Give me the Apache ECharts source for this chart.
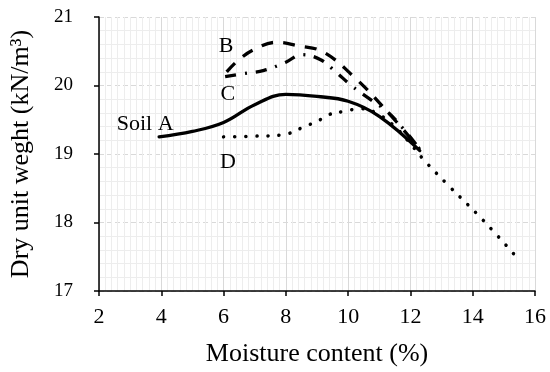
<!DOCTYPE html>
<html>
<head>
<meta charset="utf-8">
<script src="https://cdn.jsdelivr.net/npm/echarts@6/dist/echarts.min.js"></script>
<style>html,body{margin:0;padding:0;background:#fff}#c{width:550px;height:372px}</style>
</head>
<body>
<div id="c"></div>
<script>
var xA = [3.93, 5, 6, 7, 8, 9, 10, 11, 12.3];
var yA = [19.25, 19.33, 19.46, 19.72, 19.87, 19.84, 19.77, 19.55, 19.05];
var xB = [6.1, 6.5, 7, 7.7, 8.4, 9.2, 10.2, 11.2, 12.3];
var yB = [20.2, 20.38, 20.53, 20.63, 20.58, 20.49, 20.12, 19.65, 19.07];
var xC = [6.05, 6.6, 7.3, 8.0, 8.5, 9.1, 9.6, 10.1, 10.7, 11.25, 11.75, 12.3];
var yC = [20.13, 20.17, 20.22, 20.34, 20.45, 20.38, 20.2, 20.0, 19.8, 19.62, 19.38, 19.07];
var xD = [6, 7, 7.9, 8.6, 9.1, 9.35, 9.84, 10.4, 10.9, 11.5, 12, 12.4, 13.2, 14.3, 15.36];
var yD = [19.25, 19.26, 19.28, 19.4, 19.5, 19.57, 19.62, 19.66, 19.6, 19.4, 19.15, 18.93, 18.55, 18.05, 17.52];
var xTicks = [2, 4, 6, 8, 10, 12, 14, 16];
var yTicks = [17, 18, 19, 20, 21];
var labels = [
  {text: 'Soil A', x: 3.48, y: 19.44},
  {text: 'B', x: 6.08, y: 20.58},
  {text: 'C', x: 6.14, y: 19.87},
  {text: 'D', x: 6.14, y: 18.88}
];

function zip(xs, ys) { return xs.map(function (v, i) { return [v, ys[i]]; }); }

var FONT = 'Liberation Serif';
var chart = echarts.init(document.getElementById('c'), null, {renderer: 'canvas'});
var option = {
  animation: false,
  backgroundColor: '#fff',
  grid: {left: 99, right: 15, top: 17, bottom: 80},
  xAxis: {
    type: 'value', min: xTicks[0], max: xTicks[xTicks.length - 1], interval: 2,
    name: 'Moisture content (%)', nameLocation: 'middle', nameGap: 50,
    nameTextStyle: {fontFamily: FONT, fontSize: 26, color: '#000'},
    axisLine: {show: true, lineStyle: {color: '#000', width: 1.5}},
    axisTick: {show: true, length: 5, inside: false, lineStyle: {color: '#000', width: 1.5}},
    axisLabel: {fontFamily: FONT, fontSize: 22, color: '#000', margin: 15},
    splitLine: {show: true, lineStyle: {color: '#d9d9d9', width: 1}},
    minorTick: {show: false, splitNumber: 10},
    minorSplitLine: {show: true, lineStyle: {color: '#ededed', width: 1}}
  },
  yAxis: {
    type: 'value', min: yTicks[0], max: yTicks[yTicks.length - 1], interval: 1,
    name: 'Dry unit weght (kN/m³)', nameLocation: 'middle', nameGap: 65,
    nameTextStyle: {fontFamily: FONT, fontSize: 26, color: '#000'},
    axisLine: {show: true, lineStyle: {color: '#000', width: 1.5}},
    axisTick: {show: true, length: 5, inside: false, lineStyle: {color: '#000', width: 1.5}},
    axisLabel: {fontFamily: FONT, fontSize: 19, color: '#000', margin: 26},
    splitLine: {show: true, lineStyle: {color: '#d9d9d9', width: 1, type: [5, 3]}},
    minorTick: {show: false, splitNumber: 5},
    minorSplitLine: {show: true, lineStyle: {color: '#ededed', width: 1}}
  },
  series: [
    {name: 'A', type: 'line', data: zip(xA, yA), smooth: 0.4, symbol: 'none',
     lineStyle: {color: '#000', width: 3.3, cap: 'round'}},
    {name: 'B', type: 'line', data: zip(xB, yB), smooth: 0.4, symbol: 'none',
     lineStyle: {color: '#000', width: 3.3, type: [12, 10], cap: 'butt'}},
    {name: 'C', type: 'line', data: zip(xC, yC), smooth: 0.4, symbol: 'none',
     lineStyle: {color: '#000', width: 3.3, type: [11, 9, 2, 9], cap: 'butt'}},
    {name: 'D', type: 'line', data: zip(xD, yD), smooth: 0.4, symbol: 'none',
     lineStyle: {color: '#000', width: 3.5, type: [0.1, 11], cap: 'round'}}
  ]
};
chart.setOption(option);
var g = labels.map(function (l) {
  var p = chart.convertToPixel({gridIndex: 0}, [l.x, l.y]);
  return {type: 'text', x: p[0], y: p[1], z: 100,
    style: {text: l.text, fontFamily: FONT, fontSize: 22, fill: '#000', align: 'center', verticalAlign: 'middle'}};
});
chart.setOption({graphic: g});
</script>
</body>
</html>
